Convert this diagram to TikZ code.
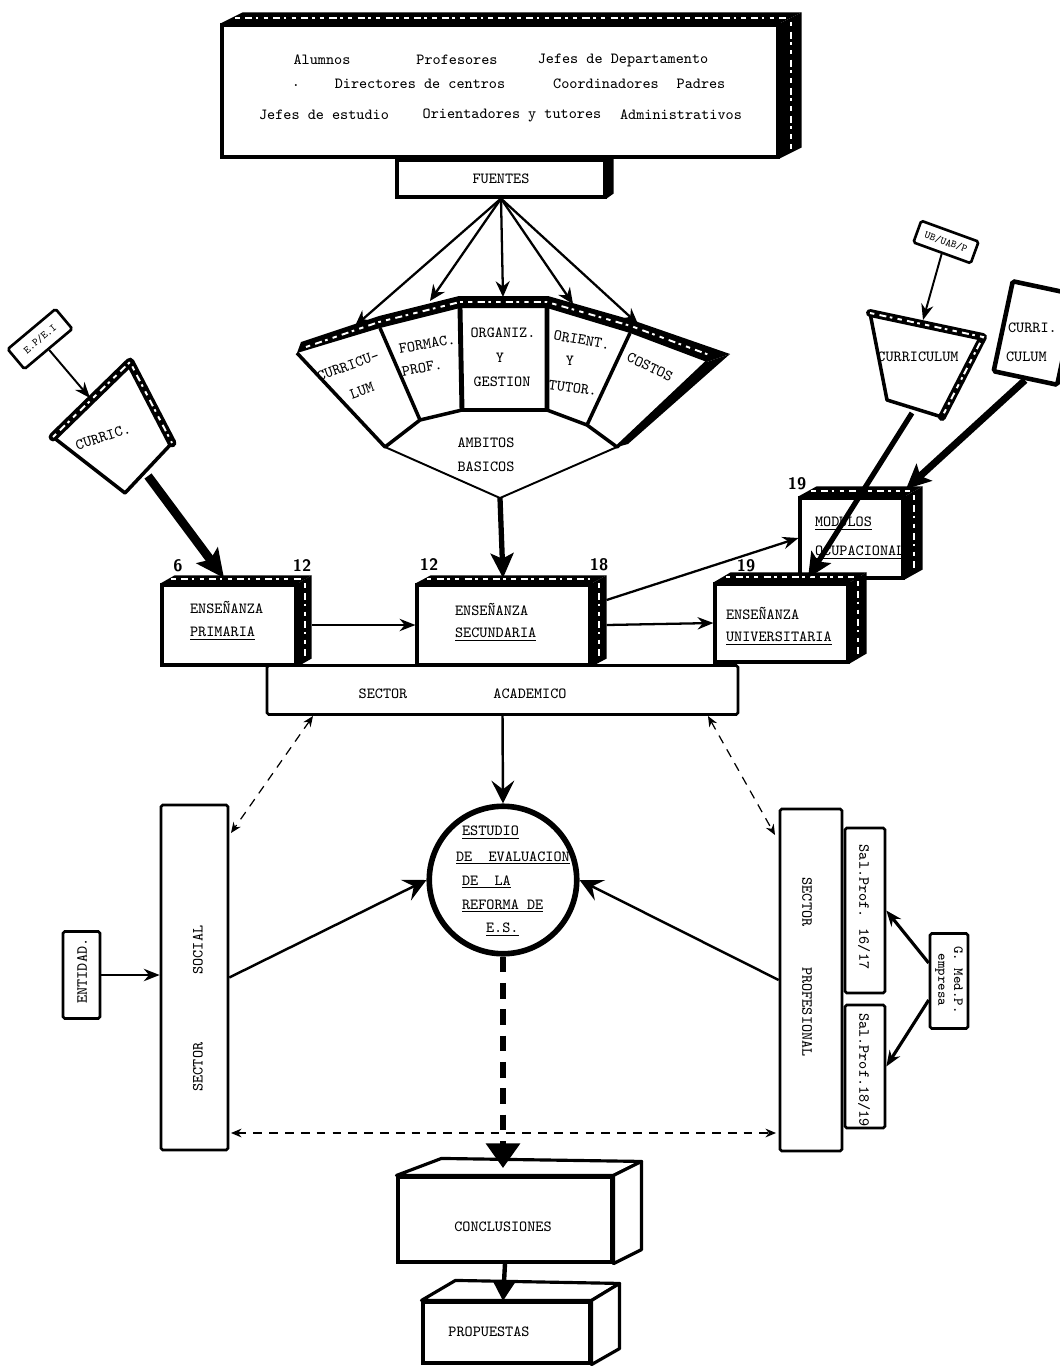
\documentclass[tikz,border=0pt]{standalone}
\usepackage{fontspec}
\usetikzlibrary{arrows.meta}
\newcommand\boxthreed[3]{%
  \fill[black] (#1.north west) -- ([shift={(#2,-#3)}]#1.north west) -- ([shift={(#2,-#3)}]#1.north east) -- (#1.north east) -- cycle;
  \fill[black] (#1.north east) -- ([shift={(#2,-#3)}]#1.north east) -- ([shift={(#2,-#3)}]#1.south east) -- (#1.south east) -- cycle;
  \draw[fleck] ([shift={(#2/2+4,-#3/2)}]#1.north west) -- ([shift={(#2/2-4,-#3/2)}]#1.north east);
  \draw[fleck] ([shift={(#2/2,-#3/2+4)}]#1.north east) -- ([shift={(#2/2,-#3/2-4)}]#1.south east);
}
\begin{document}
\begin{tikzpicture}[x=0.02cm,y=-0.02cm,
  every node/.style={font=\fontsize{8.8}{10.5}\selectfont\ttfamily, inner sep=1pt},
  front/.style={draw, line width=1.8pt, fill=white, inner sep=0pt},
  plain/.style={draw, line width=1.5pt, fill=white, inner sep=0pt, rounded corners=1pt},
  fleck/.style={white, line width=1.1pt, dash pattern=on 2.5pt off 3pt on 4pt off 2pt on 1.5pt off 3pt},
  num/.style={font=\fontsize{9.5}{10}\selectfont\sffamily\bfseries},
  small/.style={font=\fontsize{6}{7}\selectfont\ttfamily},
  arr/.style={line width=1.3pt,-{Stealth[length=9pt,width=7pt]}},
  fanarr/.style={line width=1.3pt,-{Stealth[length=9pt,width=8pt,inset=3pt]}},
  heavy/.style={line width=#1,-{Stealth[length=14pt,width=13pt,inset=3pt]}},
  circarr/.style={line width=1.4pt,-{Stealth[length=13pt,width=13pt,inset=5pt]}},
  dsh/.style={line width=0.7pt,dash pattern=on 5pt off 4pt,{Stealth[length=6pt,width=5pt]}-{Stealth[length=6pt,width=5pt]}},
]
\fill[white] (0,0) rectangle (1060,1366);
\useasboundingbox (0,0) rectangle (1060,1366);

% ---------- top box: sources ----------
\node[front, minimum width=11.12cm, minimum height=2.64cm] (src) at (500,91) {};
\boxthreed{src}{22}{11}
\node (s1) at (322,60) {Alumnos};
\node (s2) at (457,60) {Profesores};
\node (s3) at (623,60) {Jefes de Departamento};
\node (s4) at (296,86) {.};
\node (s5) at (420,84) {Directores de centros};
\node (s6) at (606,84) {Coordinadores};
\node (s7) at (701,84) {Padres};
\node (s8) at (324,115) {Jefes de estudio};
\node (s9) at (512,115) {Orientadores y tutores};
\node (s10) at (681,115) {Administrativos};

\node[front, minimum width=4.16cm, minimum height=0.74cm] (fuentes) at (501,178.5) {FUENTES};
\fill (fuentes.north east) -- ++(7,0) -- ([xshift=0.14cm,yshift=0.1cm]fuentes.south east) -- (fuentes.south east) -- cycle;

% ---------- fan: ambitos basicos ----------
\coordinate (p0) at (297,353);
\coordinate (p1) at (380,328);
\coordinate (p2) at (460,308);
\coordinate (p3) at (547,308);
\coordinate (p4) at (630,333);
\coordinate (p5) at (707,362);
\coordinate (b0) at (385,447);
\coordinate (b1) at (420,420);
\coordinate (b2) at (462,410);
\coordinate (b3) at (547,410);
\coordinate (b4) at (587,425);
\coordinate (b5) at (617,447);
\coordinate (amb) at (500,498);
\fill (p0) -- (p1) -- (p2) -- (p3) -- (p4) -- (p5) -- (730,354) -- (632,320) -- (548,296) -- (459,296) -- (379,316) -- (301,342) -- cycle;
\draw[fleck] (306,347) -- (379,322) -- (460,302) -- (547,302) -- (631,326) -- (712,356);
\fill (p5) -- (730,354) -- (628,444) -- (b5) -- cycle;
\draw[line width=2pt, line join=round] (p0) -- (b0) -- (b1) -- (b2) -- (b3) -- (b4) -- (b5) -- (p5);
\draw[line width=2pt] (p1) -- (b1) (p4) -- (b4);
\draw[line width=2.8pt] (p2) -- (b2) (p3) -- (b3);
\draw[line width=1.1pt, line join=round] (b0) -- (amb) -- (b5);
\node[rotate=20] (f1) at (348,366) {CURRICU-};
\node[rotate=20] (f2) at (362,391) {LUM};
\node[rotate=10] (f3) at (427,344) {FORMAC.};
\node[rotate=10] (f4) at (422,368) {PROF.};
\node (f5) at (503,333) {ORGANIZ.};
\node (f6) at (500,358) {Y};
\node (f7) at (502,382) {GESTION};
\node[rotate=-10] (f8) at (582,340) {ORIENT.};
\node (f9) at (570,361) {Y};
\node[rotate=-8] (f10) at (573,388) {TUTOR.};
\node[rotate=-25] (f11) at (650,367) {COSTOS};
\node (f12) at (486,443) {AMBITOS};
\node (f13) at (486,467) {BASICOS};

\coordinate (t1) at (355,326);
\coordinate (t2) at (430,301);
\coordinate (t3) at (503,297);
\coordinate (t4) at (573,304);
\coordinate (t5) at (638,324);
\foreach \t in {t1,t2,t3,t4,t5} \draw[fanarr] (fuentes.south) -- (\t);

% ---------- left curriculum ----------
\node[plain, rotate=40, minimum width=1.25cm, minimum height=0.52cm] (ep) at (40,339) {};
\node[small, rotate=40, inner sep=0pt] (ept) at (40,339) {E.P/E.I};
\coordinate (c1) at (53,437);
\coordinate (c2) at (130,362);
\coordinate (c3) at (172,443);
\coordinate (c4) at (125,493);
\draw[line width=2pt, line join=round, fill=white] (c1) -- (c2) -- (c3) -- (c4) -- cycle;
\draw[line width=5pt, line join=round, line cap=round] (c1) -- (c2) -- (c3);
\draw[fleck] (c1) -- (c2) -- (c3);
\node[rotate=18] (ct) at (103,437) {CURRIC.};
\coordinate (ctop) at (90,398);
\draw[arr, line width=1.1pt] (ep.south) -- (ctop);

% ---------- right curricula ----------
\node[plain, rotate=-20, minimum width=1.22cm, minimum height=0.46cm] (ub) at (946,242) {};
\node[small, rotate=-20, inner sep=0pt] (ubt) at (946,242) {UB/UAB/P};
\coordinate (r1) at (870,313);
\coordinate (r2) at (983,337);
\coordinate (r3) at (942,417);
\coordinate (r4) at (887,400);
\draw[line width=2pt, line join=round, fill=white] (r1) -- (r2) -- (r3) -- (r4) -- cycle;
\draw[line width=4.5pt, line join=round, line cap=round] (r1) -- (r2) -- (r3);
\draw[fleck] (r1) -- (r2) -- (r3);
\node (rt) at (918,357) {CURRICULUM};
\coordinate (rtop) at (923,320);
\draw[arr, line width=1.1pt] (ub.south) -- (rtop);

\node[plain, line width=2.6pt, rotate=-12, minimum width=1.3cm, minimum height=1.84cm] (cur2) at (1035,333) {};
\node[anchor=west] (cu1) at (1006,328) {CURRI.};
\node[anchor=west] (cu2) at (1004,357) {CULUM};

% ---------- academic sector ----------
\node[plain, minimum width=9.42cm, minimum height=0.98cm] (acad) at (502.5,690) {};
\node (a1) at (383,694) {SECTOR};
\node (a2) at (530,694) {ACADEMICO};

\node[front, minimum width=2.06cm, minimum height=1.6cm] (mod) at (851.5,538) {};
\node[anchor=west] (m1) at (813,524) {\underline{MODULOS}};
\node[anchor=west] (m2) at (813,553) {\underline{OCUPACIONALES}};
\boxthreed{mod}{18}{10}

\node[front, minimum width=2.66cm, minimum height=1.56cm] (univ) at (781.5,623) {};
\boxthreed{univ}{17}{10}
\node[anchor=west] (u1) at (724,613) {ENSEÑANZA};
\node[anchor=west] (u2) at (724,639) {\underline{UNIVERSITARIA}};

\node[front, minimum width=2.68cm, minimum height=1.6cm] (prim) at (229,625) {};
\boxthreed{prim}{14}{8}
\node[anchor=west] (pr1) at (188,607) {ENSEÑANZA};
\node[anchor=west] (pr2) at (188,634) {\underline{PRIMARIA}};

\node[front, minimum width=3.46cm, minimum height=1.6cm] (sec) at (503.5,625) {};
\boxthreed{sec}{15}{8}
\node[anchor=west] (se1) at (453,609) {ENSEÑANZA};
\node[anchor=west] (se2) at (453,635) {\underline{SECUNDARIA}};

\node[num] (n1) at (178,566) {6};
\node[num] (n2) at (302,566) {12};
\node[num] (n3) at (429,565) {12};
\node[num] (n4) at (599,565) {18};
\node[num] (n5) at (746,566) {19};
\node[num] (n6) at (797,484) {19};

% connectors among academic boxes
\draw[arr] ([xshift=0.28cm]prim.east) -- (sec.west);
\draw[arr] ([xshift=0.3cm]sec.east) -- (univ.west);
\draw[arr] ([xshift=0.3cm,yshift=0.5cm]sec.east) -- (mod.west);
\coordinate (sectop) at (503,578);
\draw[heavy=3pt] (amb) -- (sectop);
\coordinate (cbot) at (148,476);
\coordinate (primtop) at (224,578);
\draw[line width=5pt,-{Stealth[length=16pt,width=15pt,inset=3pt]}] (cbot) -- (primtop);
\coordinate (rbot) at (912,413);
\coordinate (univtop) at (808,578);
\draw[heavy=3pt] (rbot) -- (univtop);
\coordinate (modtr) at (906,489);
\draw[heavy=4pt] (cur2.south) -- (modtr);

% ---------- central study ----------
\node[circle, draw, line width=3.2pt, minimum size=2.95cm, inner sep=0pt] (circ) at (503,880) {};
\node[anchor=west] (e1) at (460,833) {\underline{ESTUDIO}};
\node[anchor=west] (e2) at (454,858) {\underline{DE\ \ EVALUACION}};
\node[anchor=west] (e3) at (460,882) {\underline{DE\ \ LA}};
\node[anchor=west] (e4) at (460,906) {\underline{REFORMA DE}};
\node[anchor=west] (e5) at (484,930) {\underline{E.S.}};
\draw[circarr] (acad.south) -- (circ.north);

% ---------- social sector ----------
\node[plain, minimum width=1.34cm, minimum height=6.9cm] (social) at (194.5,977.5) {};
\node[rotate=90] (so1) at (198,950) {SOCIAL};
\node[rotate=90] (so2) at (198,1067) {SECTOR};
\node[plain, minimum width=0.74cm, minimum height=1.74cm] (ent) at (81.5,975) {};
\node[rotate=90] (entt) at (82,971) {ENTIDAD.};
\draw[arr, line width=1.6pt] (ent.east) -- (ent.east -| social.west);
\draw[circarr] (social.east) -- (circ.west);

% ---------- professional sector ----------
\node[plain, minimum width=1.24cm, minimum height=6.84cm] (prof) at (811,980) {};
\node[rotate=-90] (pt1) at (807,902) {SECTOR};
\node[rotate=-90] (pt2) at (807,1012) {PROFESIONAL};
\node[plain, minimum width=0.8cm, minimum height=3.3cm] (sal1) at (865,910.5) {};
\node[rotate=-90] (st1) at (864,907) {Sal.Prof. 16/17};
\node[plain, minimum width=0.8cm, minimum height=2.46cm] (sal2) at (865,1066.5) {};
\node[rotate=-90] (st2) at (864,1070) {Sal.Prof.18/19};
\node[plain, minimum width=0.76cm, minimum height=1.9cm] (gmed) at (949,981) {};
\node[rotate=-90, align=center, font=\fontsize{8}{9}\selectfont\ttfamily] (gt) at (949,980) {G. Med.P.\\empresa};
\draw[arr, line width=1.8pt] ([yshift=0.36cm]gmed.west) -- (sal1.east);
\draw[arr, line width=1.8pt] ([yshift=-0.38cm]gmed.west) -- (sal2.east);
\draw[circarr] (prof.west) -- (circ.east);

% ---------- dashed relations ----------
\coordinate (da1) at (313,716);
\coordinate (db1) at (231,833);
\coordinate (da2) at (708,716);
\coordinate (db2) at (775,835);
\coordinate (dl) at (231,1133);
\coordinate (dr) at (776,1133);
\draw[dsh] (da1) -- (db1);
\draw[dsh] (da2) -- (db2);
\draw[dsh] (dl) -- (dr);

% ---------- conclusions / proposals ----------
\node[front, minimum width=4.28cm, minimum height=1.7cm] (conc) at (505,1219.5) {};
\draw[line width=1.8pt, fill=white, line join=round] (conc.north west) -- ([shift={(45,-17)}]conc.north west) -- ([shift={(28,-14)}]conc.north east) -- (conc.north east) -- cycle;
\draw[line width=1.8pt, fill=white, line join=round] (conc.north east) -- ([shift={(28,-14)}]conc.north east) -- ([shift={(28,-14)}]conc.south east) -- (conc.south east) -- cycle;
\node (ct1) at (503,1227) {CONCLUSIONES};

\node[front, minimum width=3.34cm, minimum height=1.22cm] (prop) at (506.5,1332.5) {};
\draw[line width=1.8pt, fill=white, line join=round] (prop.north west) -- ([shift={(34,-20)}]prop.north west) -- ([shift={(28,-17)}]prop.north east) -- (prop.north east) -- cycle;
\draw[line width=1.8pt, fill=white, line join=round] (prop.north east) -- ([shift={(28,-17)}]prop.north east) -- ([shift={(28,-16)}]prop.south east) -- (prop.south east) -- cycle;
\node (pt3) at (489,1332) {PROPUESTAS};

\coordinate (conctop) at (503,1168);
\draw[line width=3pt, dash pattern=on 9pt off 6pt, -{Triangle[length=14pt,width=19pt]}] (circ.south) -- (conctop);
\coordinate (proptop) at (503,1301);
\draw[line width=2.5pt, -{Triangle[length=11pt,width=12pt]}] (conc.south) -- (proptop);
\end{tikzpicture}
\end{document}
